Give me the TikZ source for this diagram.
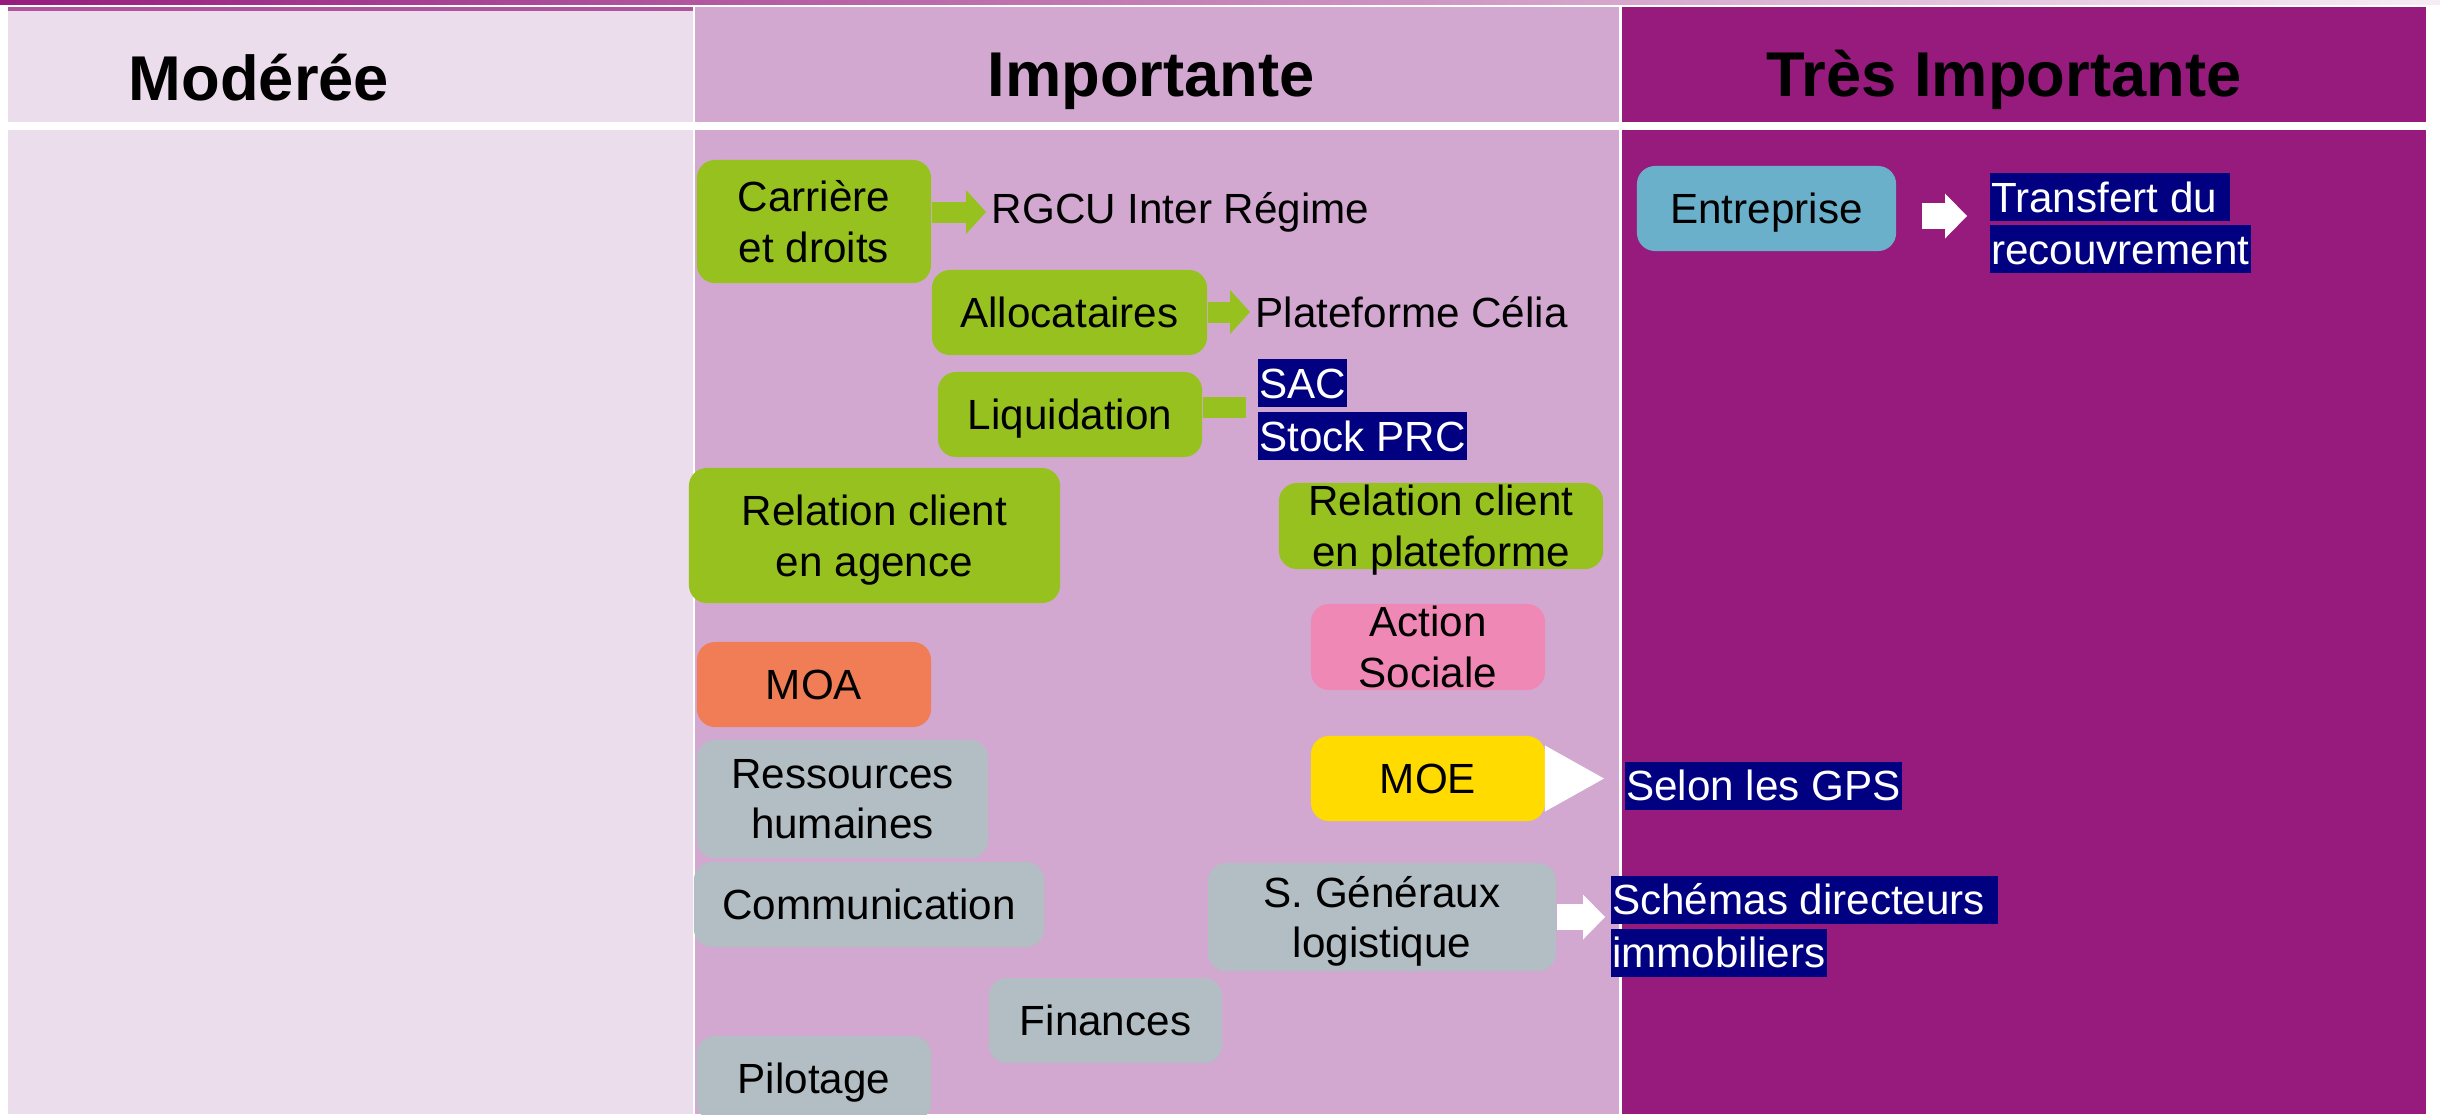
\documentclass[tikz,border=0pt]{standalone}
\usepackage{fontspec}
\setmainfont{Liberation Sans}
\usepackage{tikz}
\usetikzlibrary{arrows.meta,positioning}
\definecolor{moderee}{RGB}{235,221,236}
\definecolor{important}{RGB}{210,168,209}
\definecolor{tresimportant}{RGB}{150,27,125}
\definecolor{vert}{RGB}{150,193,31}
\definecolor{marine}{RGB}{0,0,128}
\definecolor{bleu}{RGB}{106,176,203}
\definecolor{rose}{RGB}{240,136,182}
\definecolor{corail}{RGB}{240,125,86}
\definecolor{jaune}{RGB}{255,219,0}
\definecolor{gris}{RGB}{179,190,196}
\newcommand{\boxfont}{\fontsize{12}{14.4}\selectfont}
\newcommand{\titlefont}{\fontsize{18}{21.6}\selectfont\bfseries}

\begin{document}
\begin{tikzpicture}[
    x=0.01cm, y=-0.01cm,
    box/.style={rounded corners=0.18cm, align=center, inner sep=0pt, text depth=-0.05cm, font=\boxfont},
    greenbox/.style={box, fill=vert},
    bluebox/.style={box, fill=bleu},
    pinkbox/.style={box, fill=rose},
    orangebox/.style={box, fill=corail},
    yellowbox/.style={box, fill=jaune},
    greybox/.style={box, fill=gris},
    plain/.style={anchor=west, inner sep=0.05cm, font=\boxfont},
    navy/.style={anchor=west, fill=marine, text=white, inner xsep=0.015cm, inner ysep=0.09cm,
        text height=0.3cm, text depth=0pt, font=\boxfont},
    header/.style={anchor=base, font=\titlefont},
    greenarrow/.style={draw=vert, line width=0.21cm, -{Triangle[length=0.2cm, width=0.44cm, line width=0pt]}},
    greenbar/.style={draw=vert, line width=0.21cm},
    whitearrow/.style={draw=white, line width=0.26cm, -{Triangle[length=0.22cm, width=0.45cm, line width=0pt]}},
    whitetip/.style={draw=white, line width=0.1cm, -{Triangle[length=0.59cm, width=0.66cm, line width=0pt]}}
]
\useasboundingbox (0,0) rectangle (2440,1114);

% Columns
\shade[left color=tresimportant, right color=tresimportant!8] (0,0) rectangle (2440,4);
\fill[tresimportant!75] (8,7) rectangle (693,11);
\fill[moderee] (8,11) rectangle (693,122);
\fill[important] (695,7) rectangle (1619,122);
\fill[tresimportant] (1622,7) rectangle (2426,122);
\fill[moderee] (8,130) rectangle (693,1114);
\fill[important] (695,130) rectangle (1619,1114);
\fill[tresimportant] (1622,130) rectangle (2426,1114);

% Headers
\node[header] (hmoderee) at (259,100) {Modérée};
\node[header] (himportante) at (1151,96) {Importante};
\node[header] (htres) at (2004,96) {Très Importante};

% Green boxes
\node[greenbox, minimum width=2.34cm, minimum height=1.23cm] (carriere) at (814,221.5) {Carrière\\et droits};
\node[greenbox, minimum width=2.75cm, minimum height=0.85cm] (allocataires) at (1069.5,312.5) {Allocataires};
\node[greenbox, minimum width=2.64cm, minimum height=0.85cm] (liquidation) at (1070,414.5) {Liquidation};
\node[greenbox, minimum width=3.71cm, minimum height=1.35cm] (agence) at (874.5,535.5) {Relation client\\en agence};
\node[greenbox, minimum width=3.24cm, minimum height=0.86cm] (plateforme) at (1441,526) {Relation client\\en plateforme};

% Other boxes
\node[pinkbox, minimum width=2.34cm, minimum height=0.86cm] (action) at (1428,647) {Action\\Sociale};
\node[orangebox, minimum width=2.34cm, minimum height=0.85cm] (moa) at (814,684.5) {MOA};
\node[yellowbox, minimum width=2.34cm, minimum height=0.85cm] (moe) at (1428,778.5) {MOE};
\node[greybox, minimum width=2.91cm, minimum height=1.18cm] (rh) at (842.5,799) {Ressources\\humaines};
\node[greybox, minimum width=3.50cm, minimum height=0.85cm] (communication) at (869,904.5) {Communication};
\node[greybox, minimum width=3.48cm, minimum height=1.08cm] (generaux) at (1382,917) {S. Généraux\\logistique};
\node[greybox, minimum width=2.33cm, minimum height=0.85cm] (finances) at (1105.5,1020.5) {Finances};
\node[greybox, minimum width=2.34cm, minimum height=0.85cm] (pilotage) at (814,1078.5) {Pilotage};
\node[bluebox, minimum width=2.59cm, minimum height=0.85cm] (entreprise) at (1766.5,208.5) {Entreprise};

% Targets
\node[plain] (rgcu) at (986,212) {RGCU Inter Régime};
\node[plain] (celia) at (1250,312) {Plateforme Célia};
\node[navy] (sac) at (1257,383) {SAC};
\node[navy, below right=0.04cm and 0cm of sac.south west] (stockprc) {Stock PRC};
\node[navy] (transfert) at (1989,197) {Transfert du\kern0.278em};
\node[navy, below right=0.03cm and 0cm of transfert.south west] (recouvrement) {recouvrement};
\node[navy] (gps) at (1624,785.5) {Selon les GPS};
\node[navy] (schemas) at (1610,899.5) {Schémas directeurs\kern0.278em};
\node[navy, below right=0.04cm and 0cm of schemas.south west] (immobiliers) {immobiliers};
\coordinate (tipentreprise) at (1967,216);

% Arrows
\draw[greenarrow] (carriere.east |- rgcu.west) -- (rgcu.west);
\draw[greenarrow] (allocataires.east |- celia.west) -- (celia.west);
\draw[greenbar, shorten >=0.11cm] (liquidation.east |- sac.south west) -- (sac.south west);
\draw[whitearrow, shorten <=0.25cm] (entreprise.east |- tipentreprise) -- (tipentreprise);
\draw[whitetip, shorten >=0.2cm] (moe.east) -- (moe.east -| gps.west);
\draw[whitearrow, shorten >=0.05cm] (generaux.east) -- (generaux.east -| schemas.west);
\end{tikzpicture}
\end{document}
